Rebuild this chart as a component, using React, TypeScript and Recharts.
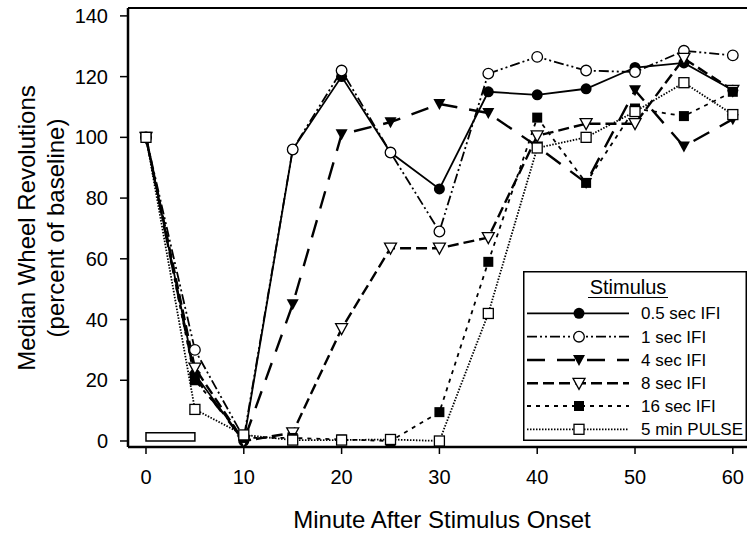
import React from 'react';
import {
  LineChart,
  Line,
  XAxis,
  YAxis,
  ReferenceLine,
  ReferenceArea,
  Legend,
  Label,
} from 'recharts';

const minutes = [0, 5, 10, 15, 20, 25, 30, 35, 40, 45, 50, 55, 60];
const ifi05 = [100, 22, 0, 96, 120, 95, 83, 115, 114, 116, 123, 124.5, 115.5];
const ifi1 = [100, 30, 1, 96, 122, 95, 69, 121, 126.5, 122, 121.5, 128.5, 127];
const ifi4 = [100, 21, 0, 45, 101, 105, 111, 108, 97, 85, 115.5, 97, 106];
const ifi8 = [100, 24, 0, 2.7, 37, 63.5, 63.5, 67, 100.5, 104.5, 104.5, 126, 115.5];
const ifi16 = [100, 20, 1, 1, 0.5, 0, 9.5, 59, 106.5, 85, 109.5, 107, 115];
const pulse5 = [100, 10.4, 2, 0.3, 0.3, 0.5, 0, 42, 96.5, 100, 108.5, 118, 107.5];

const xTicks = [0, 10, 20, 30, 40, 50, 60];
const yTicks = [0, 20, 40, 60, 80, 100, 120, 140];

const seriesNames = ['0.5 sec IFI', '1 sec IFI', '4 sec IFI', '8 sec IFI', '16 sec IFI', '5 min PULSE'];
const seriesKeys = ['s05', 's1', 's4', 's8', 's16', 'p5'];
const seriesValues = [ifi05, ifi1, ifi4, ifi8, ifi16, pulse5];
const seriesMarkers = ['filledCircle', 'openCircle', 'filledTri', 'openTri', 'filledSquare', 'openSquare'];
const seriesDash = ['', '10 3 2 3 2 3', '18 12', '11 5', '4 5', '1.5 1.5'];
const seriesWidth = [1.8, 1.8, 2.4, 2.4, 1.8, 1.8];

const data = minutes.map((m, i) => {
  const row: any = { minute: m };
  seriesKeys.forEach((k, j) => {
    row[k] = seriesValues[j][i];
  });
  return row;
});

function Marker({ kind, cx, cy }: { kind: string; cx: number; cy: number }) {
  if (cx == null || cy == null) return null;
  switch (kind) {
    case 'filledCircle':
      return <circle cx={cx} cy={cy} r={5.5} fill="#000" />;
    case 'openCircle':
      return <circle cx={cx} cy={cy} r={5.3} fill="#fff" stroke="#000" strokeWidth={1.3} />;
    case 'filledTri':
      return <path d={`M${cx - 6},${cy - 5} L${cx + 6},${cy - 5} L${cx},${cy + 6} Z`} fill="#000" />;
    case 'openTri':
      return (
        <path
          d={`M${cx - 6},${cy - 5} L${cx + 6},${cy - 5} L${cx},${cy + 6} Z`}
          fill="#fff"
          stroke="#000"
          strokeWidth={1.3}
        />
      );
    case 'filledSquare':
      return <rect x={cx - 5} y={cy - 5} width={10} height={10} fill="#000" />;
    case 'openSquare':
      return <rect x={cx - 5} y={cy - 5} width={10} height={10} fill="#fff" stroke="#000" strokeWidth={1.3} />;
    default:
      return null;
  }
}

const FONT = '"Liberation Sans", Arial, Helvetica, sans-serif';

function LegendBox() {
  const rowY = [42.3, 65.7, 89, 112.3, 135, 158.3];
  return (
    <svg width={224} height={170} style={{ display: 'block' }}>
      <rect x={0.75} y={0.75} width={222.5} height={168.5} fill="#fff" stroke="#000" strokeWidth={1.5} />
      <text x={105} y={23} textAnchor="middle" fontFamily={FONT} fontSize={20} fill="#000">
        Stimulus
      </text>
      <line x1={65} x2={145} y1={26.5} y2={26.5} stroke="#000" strokeWidth={1.2} />
      {seriesNames.map((name, i) => (
        <g key={name}>
          <line
            x1={4}
            x2={106}
            y1={rowY[i]}
            y2={rowY[i]}
            stroke="#000"
            strokeWidth={seriesWidth[i]}
            strokeDasharray={seriesDash[i] || undefined}
          />
          <Marker kind={seriesMarkers[i]} cx={56} cy={rowY[i]} />
          <text x={118} y={rowY[i] + 6} fontFamily={FONT} fontSize={17} fill="#000">
            {name}
          </text>
        </g>
      ))}
    </svg>
  );
}

function YTitle(props: any) {
  const cy = 228;
  return (
    <g>
      <text
        x={35}
        y={cy}
        transform={`rotate(-90, 35, ${cy})`}
        textAnchor="middle"
        fontFamily={FONT}
        fontSize={24}
        fill="#000"
      >
        Median Wheel Revolutions
      </text>
      <text
        x={64}
        y={cy}
        transform={`rotate(-90, 64, ${cy})`}
        textAnchor="middle"
        fontFamily={FONT}
        fontSize={24}
        fill="#000"
      >
        (percent of baseline)
      </text>
    </g>
  );
}

function XTitle(props: any) {
  return (
    <text x={442} y={528} textAnchor="middle" fontFamily={FONT} fontSize={24} fill="#000">
      Minute After Stimulus Onset
    </text>
  );
}

export default function App() {
  return (
    <div style={{ position: 'absolute', left: 0, top: 0, width: 747, height: 534, background: '#fff' }}>
      <LineChart
        width={747}
        height={534}
        data={data}
        margin={{ top: 8, right: 0, bottom: 57, left: 68 }}
        style={{ fontFamily: FONT }}
      >
        <XAxis
          dataKey="minute"
          type="number"
          domain={[-1.84, 61.45]}
          ticks={xTicks}
          allowDataOverflow
          height={30}
          axisLine={{ stroke: '#000', strokeWidth: 2.5 }}
          tickLine={{ stroke: '#000', strokeWidth: 1.5 }}
          tickSize={7}
          tickMargin={16}
          tick={{ fill: '#000', fontSize: 20, fontFamily: FONT }}
        >
          <Label content={<XTitle />} />
        </XAxis>
        <YAxis
          type="number"
          domain={[-1.98, 142.6]}
          ticks={yTicks}
          allowDataOverflow
          width={60}
          axisLine={{ stroke: '#000', strokeWidth: 2.5 }}
          tickLine={{ stroke: '#000', strokeWidth: 1.5 }}
          tickSize={8}
          tickMargin={12}
          tick={{ fill: '#000', fontSize: 20, fontFamily: FONT }}
        >
          <Label content={<YTitle />} />
        </YAxis>
        <ReferenceLine y={142.6} stroke="#000" strokeWidth={2.2} ifOverflow="visible" />
        <ReferenceArea
          x1={0}
          x2={5}
          y1={0}
          y2={2.7}
          fill="#fff"
          fillOpacity={1}
          stroke="#000"
          strokeWidth={1.5}
          ifOverflow="visible"
        />
        {seriesKeys.map((k, i) => (
          <Line
            key={k}
            dataKey={k}
            name={seriesNames[i]}
            stroke="#000"
            strokeWidth={seriesWidth[i]}
            strokeDasharray={seriesDash[i] || undefined}
            isAnimationActive={false}
            dot={(p: any) => <Marker key={`${k}-${p.index}`} kind={seriesMarkers[i]} cx={p.cx} cy={p.cy} />}
            activeDot={false}
          />
        ))}
        <Legend
          layout="horizontal"
          verticalAlign="middle"
          align="center"
          content={() => <LegendBox />}
          wrapperStyle={{ position: 'absolute', left: 523, top: 271, width: 224, height: 170 }}
        />
      </LineChart>
    </div>
  );
}
